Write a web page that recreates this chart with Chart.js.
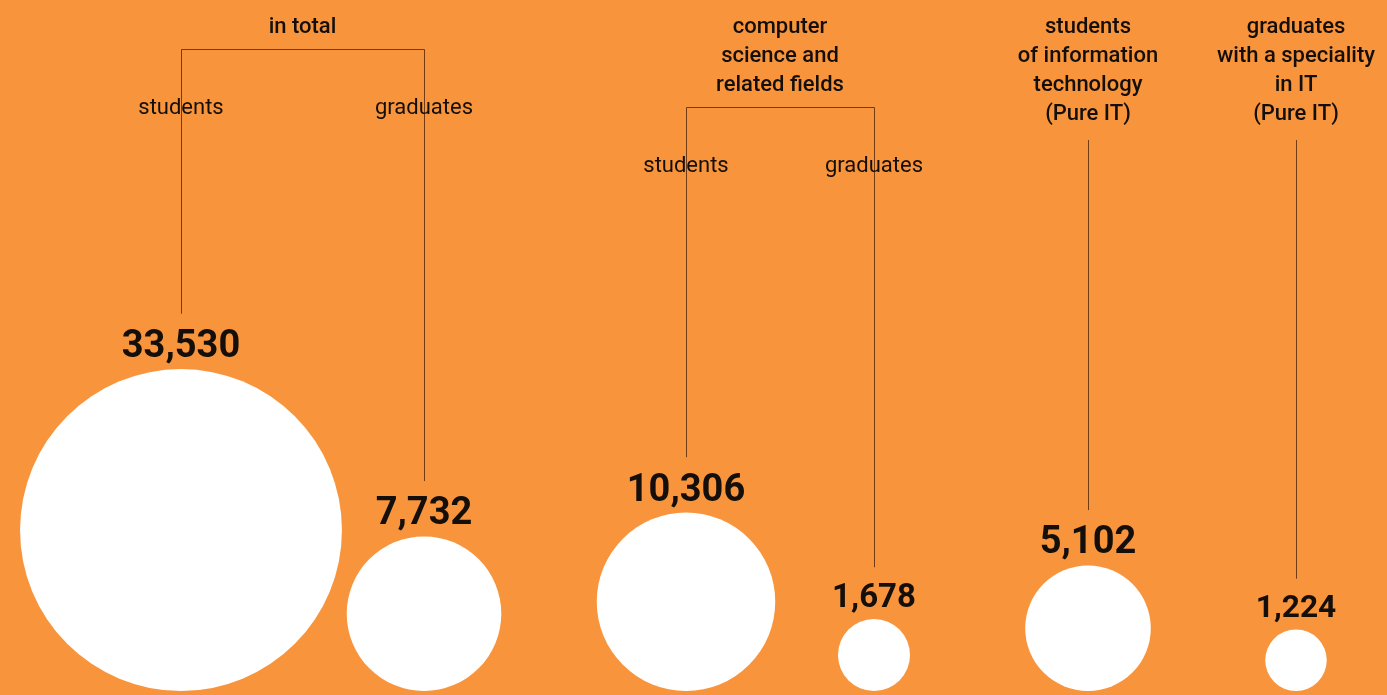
<!DOCTYPE html>
<html>
<head>
<meta charset="utf-8">
<script src="https://cdn.jsdelivr.net/npm/chart.js@4"></script>
<style>
  html, body { margin: 0; padding: 0; background: #f8953c; overflow: hidden; }
  canvas { display: block; }
</style>
</head>
<body>
<canvas id="bubbles" width="1387" height="695"></canvas>
<script>
// values shown under each column
const values = [33530, 7732, 10306, 1678, 5102, 1224];
const itemLabels = ['students', 'graduates', 'students', 'graduates', '', ''];
const groupTitles = [
    ['in total'],
    ['computer', 'science and', 'related fields'],
    ['students', 'of information', 'technology', '(Pure IT)'],
    ['graduates', 'with a speciality', 'in IT', '(Pure IT)']
];
const groupMembers = [[0, 1], [2, 3], [4], [5]];

// layout
const columnX = [181, 424, 686, 874, 1088, 1296];
const radiusScale = 0.879;   // area proportional
const bottomGap = 4;
const lineHeight = 29;
const titleTop = 27;
const textColor = '#140f0b';
const lineColor = 'rgba(90, 45, 10, 0.85)';

function radiusOf(v) { return radiusScale * Math.sqrt(v); }
function valueFontSize(r) { return Math.min(38, 24 + r / 4); }

const points = values.map((v, i) => ({ x: columnX[i], y: bottomGap + radiusOf(v), r: radiusOf(v), v: v }));

const annotations = {
    id: 'annotations',
    afterDraw(chart) {
        const ctx = chart.ctx;
        const xs = chart.scales.x;
        const meta = chart.getDatasetMeta(0);
        ctx.save();
        ctx.textAlign = 'center';

        // value labels above circles, remember where their tops are
        const labelTop = [];
        meta.data.forEach((el, i) => {
            const p = points[i];
            const top = el.y - p.r;
            const size = valueFontSize(p.r);
            const baseline = top - 12;
            ctx.font = `700 ${size}px Roboto`;
            ctx.fillStyle = textColor;
            ctx.textBaseline = 'alphabetic';
            ctx.fillText(p.v.toLocaleString('en-US'), el.x, baseline);
            labelTop[i] = baseline - size * 0.72;
        });

        groupTitles.forEach((lines, g) => {
            const members = groupMembers[g];
            const px = members.map(i => xs.getPixelForValue(columnX[i]));
            const cx = (px[0] + px[px.length - 1]) / 2;

            ctx.font = '500 22px Roboto';
            ctx.fillStyle = textColor;
            ctx.textBaseline = 'middle';
            lines.forEach((t, k) => ctx.fillText(t, cx, titleTop + k * lineHeight));
            const lastMid = titleTop + (lines.length - 1) * lineHeight;

            ctx.strokeStyle = lineColor;
            ctx.lineWidth = 1;
            if (members.length > 1) {
                const by = Math.round(lastMid + 22) + 0.5;
                ctx.beginPath();
                ctx.moveTo(Math.round(px[0]) + 0.5, by);
                ctx.lineTo(Math.round(px[px.length - 1]) + 0.5, by);
                members.forEach((i, k) => {
                    const x = Math.round(px[k]) + 0.5;
                    ctx.moveTo(x, by);
                    ctx.lineTo(x, labelTop[i] - 16);
                });
                ctx.stroke();
                ctx.font = '400 22px Roboto';
                ctx.fillStyle = textColor;
                members.forEach((i, k) => ctx.fillText(itemLabels[i], px[k], by + 59));
            } else {
                const i = members[0];
                const x = Math.round(px[0]) + 0.5;
                ctx.beginPath();
                ctx.moveTo(x, lastMid + 26);
                ctx.lineTo(x, labelTop[i] - 16);
                ctx.stroke();
            }
        });
        ctx.restore();
    }
};

new Chart(document.getElementById('bubbles'), {
    type: 'bubble',
    data: {
        datasets: [{
            data: points,
            backgroundColor: '#ffffff',
            borderWidth: 0,
            hoverRadius: 0,
            hoverBorderWidth: 0,
            clip: false
        }]
    },
    options: {
        responsive: false,
        animation: false,
        layout: { padding: 0, autoPadding: false },
        events: [],
        plugins: { legend: { display: false }, tooltip: { enabled: false } },
        scales: {
            x: { type: 'linear', min: 0, max: 1387, display: false },
            y: { type: 'linear', min: 0, max: 695, display: false }
        }
    },
    plugins: [annotations]
});
</script>
</body>
</html>
